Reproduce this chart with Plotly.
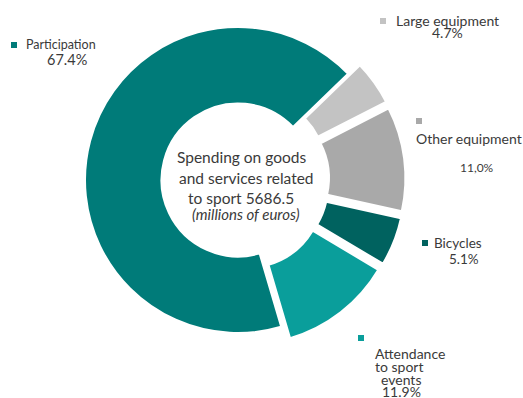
import plotly.graph_objects as go

# Spending on goods and services related to sport (share of total, %)
categories = ["Large equipment", "Other equipment", "Bicycles",
              "Attendance to sport events", "Participation"]
shares = [4.7, 11.0, 5.1, 11.9, 67.4]
share_text = ["4.7%", "11,0%", "5.1%", "11.9%", "67.4%"]
total_spending = 5686.5  # millions of euros

colors = ["#c3c3c3", "#a9a9a9", "#00625f", "#0a9e9b", "#007b79"]
pulls = [0.095, 0.095, 0.095, 0.095, 0.0]

W, H = 523, 398
cx, cy, r = 238, 180, 153          # pie centre and radius in pixels
maxpull = max(pulls)
half = r * (1 + maxpull)

fig = go.Figure(go.Pie(
    labels=categories,
    values=shares,
    sort=False,
    direction="clockwise",
    rotation=46,
    hole=0.5,
    pull=pulls,
    marker=dict(colors=colors, line=dict(color="white", width=2)),
    textinfo="none",
    hoverinfo="label+percent",
    showlegend=False,
    domain=dict(x=[(cx - half) / W, (cx + half) / W],
                y=[(H - cy - half) / H, (H - cy + half) / H]),
))

FONT = "Lato, 'Open Sans', sans-serif"
TXT = "#3a3a3a"


def px(x, y):
    return x / W, 1 - y / H


annotations = []
shapes = []


def marker(x, y, color, s=6):
    x0, y0 = px(x - s / 2, y + s / 2)
    x1, y1 = px(x + s / 2, y - s / 2)
    shapes.append(dict(type="rect", xref="paper", yref="paper",
                       x0=x0, y0=y0, x1=x1, y1=y1,
                       fillcolor=color, line=dict(width=0)))


def text(x, y, s, size=13, anchor="left", italic=False):
    ax, ay = px(x, y)
    annotations.append(dict(x=ax, y=ay, xref="paper", yref="paper",
                            text=s, showarrow=False, xanchor=anchor,
                            yanchor="middle",
                            font=dict(family=FONT, size=size, color=TXT,
                                      style="italic" if italic else "normal")))


# Participation
marker(14, 45, colors[4])
text(24, 44, categories[4], size=12.5)
text(67, 60, share_text[4], size=14.5, anchor="center")
# Large equipment
marker(383, 21, colors[0])
text(394, 20, categories[0], size=14)
text(447, 33, share_text[0], size=14, anchor="center")
# Other equipment
marker(419, 121, colors[1])
text(414, 138, categories[1], size=14)
text(477, 167, share_text[1], size=12, anchor="center")
# Bicycles
marker(425, 243, colors[2])
text(432, 243, categories[2], size=13.5)
text(464, 259, share_text[2], size=13.5, anchor="center")
# Attendance to sport events
marker(361, 338, colors[3])
text(410, 353, "Attendance", size=14, anchor="center")
text(399, 366, "to sport", size=14, anchor="center")
text(401, 379, "events", size=14, anchor="center")
text(401, 391, share_text[3], size=14, anchor="center")

# Centre caption
text(241, 157, "Spending on goods", size=15.5, anchor="center")
text(246, 178, "and services related", size=15.5, anchor="center")
text(241, 198, f"to sport {total_spending}", size=15.5, anchor="center")
text(246, 214, "(millions of euros)", size=15, anchor="center", italic=True)

fig.update_layout(
    width=W, height=H,
    margin=dict(l=0, r=0, t=0, b=0),
    paper_bgcolor="white",
    plot_bgcolor="white",
    annotations=annotations,
    shapes=shapes,
)

fig.write_html("out.html")
